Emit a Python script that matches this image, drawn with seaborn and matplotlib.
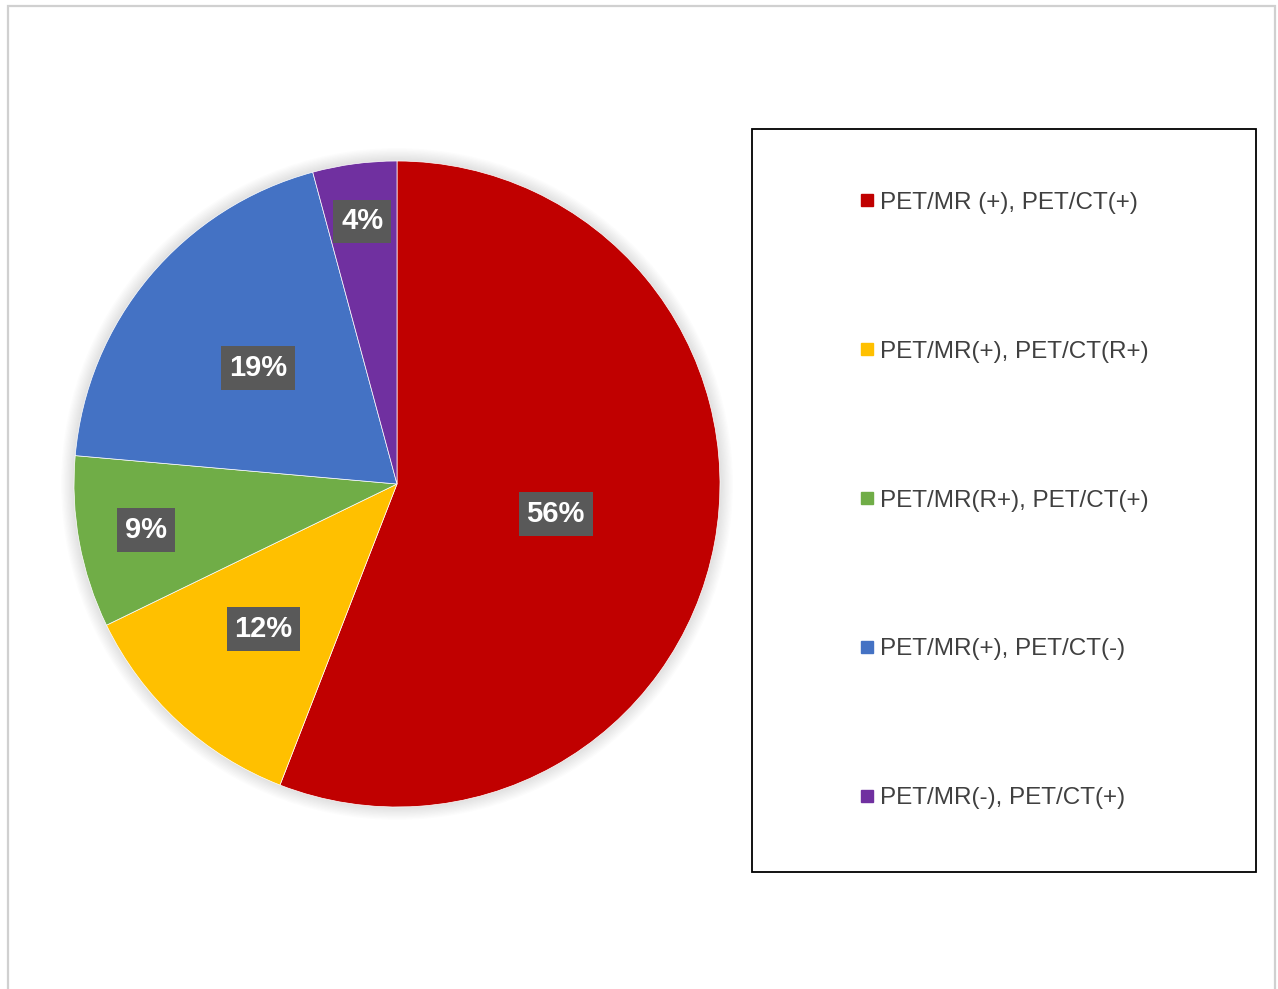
import matplotlib
matplotlib.use("Agg")
import matplotlib.pyplot as plt
import seaborn as sns
import numpy as np
from matplotlib.patches import Rectangle, Circle
from matplotlib.lines import Line2D

categories = ["PET/MR (+), PET/CT(+)", "PET/MR(+), PET/CT(R+)", "PET/MR(R+), PET/CT(+)",
              "PET/MR(+), PET/CT(-)", "PET/MR(-), PET/CT(+)"]
values = [55.9, 11.9, 8.6, 19.4, 4.2]
colors = ["#C00000", "#FFC000", "#70AD47", "#4472C4", "#7030A0"]
label_dist = [0.50, 0.61, 0.79, 0.56, 0.82]

sns.set_theme(style="white")
plt.rcParams["font.family"] = ["Liberation Sans", "DejaVu Sans"]

W, H = 1278, 989
fig = plt.figure(figsize=(W / 100, H / 100), dpi=100)
fig.patch.set_facecolor("white")

# outer frame
fig.add_artist(Rectangle((8 / W, -0.02), (1275 - 8) / W, (H - 6) / H + 0.02,
                         transform=fig.transFigure, fill=False,
                         edgecolor="#D0D0D0", linewidth=1.6))

cx, cy, r = 397, 484, 323
ax = fig.add_axes([(cx - r) / W, (H - cy - r) / H, 2 * r / W, 2 * r / H])
# soft shadow halo
for i in range(10):
    ax.add_patch(Circle((0, 0.0), 1 + 0.004 * (i + 1), facecolor="#000000",
                        edgecolor="none", alpha=0.012, clip_on=False, zorder=0))
wedges, _ = ax.pie(values, colors=colors, startangle=90, counterclock=False,
                   radius=1, wedgeprops=dict(edgecolor="white", linewidth=0.5))
for w in wedges:
    w.set_zorder(2)
ax.set_xlim(-1, 1)
ax.set_ylim(-1, 1)
ax.set_aspect("equal")
ax.axis("off")

total = sum(values)
cum = 0
for v, d in zip(values, label_dist):
    mid = cum + v / 2
    ang = np.deg2rad(90 - 360 * mid / total)
    ax.text(d * np.cos(ang), d * np.sin(ang), f"{v:.0f}%", ha="center", va="center",
            fontsize=21, fontweight="bold", color="white", zorder=5,
            bbox=dict(boxstyle="square,pad=0.27", facecolor="#595959", edgecolor="none"))
    cum += v

# legend frame
lx0, lx1, ly0, ly1 = 752, 1256, 129, 872
fig.add_artist(Rectangle((lx0 / W, (H - ly1) / H), (lx1 - lx0) / W, (ly1 - ly0) / H,
                         transform=fig.transFigure, fill=False,
                         edgecolor="black", linewidth=1.3))
handles = [Line2D([], [], marker="s", linestyle="none", markersize=8,
                  markerfacecolor=c, markeredgecolor=c) for c in colors]
fig.legend(handles, categories, loc="center",
           bbox_to_anchor=((lx0 + lx1) / 2 / W, (H - (ly0 + ly1) / 2) / H),
           frameon=False, fontsize=17.5, labelspacing=5.22, handlelength=0.6,
           handletextpad=0.25, labelcolor="#404040")

fig.savefig("out.png", dpi=100)
